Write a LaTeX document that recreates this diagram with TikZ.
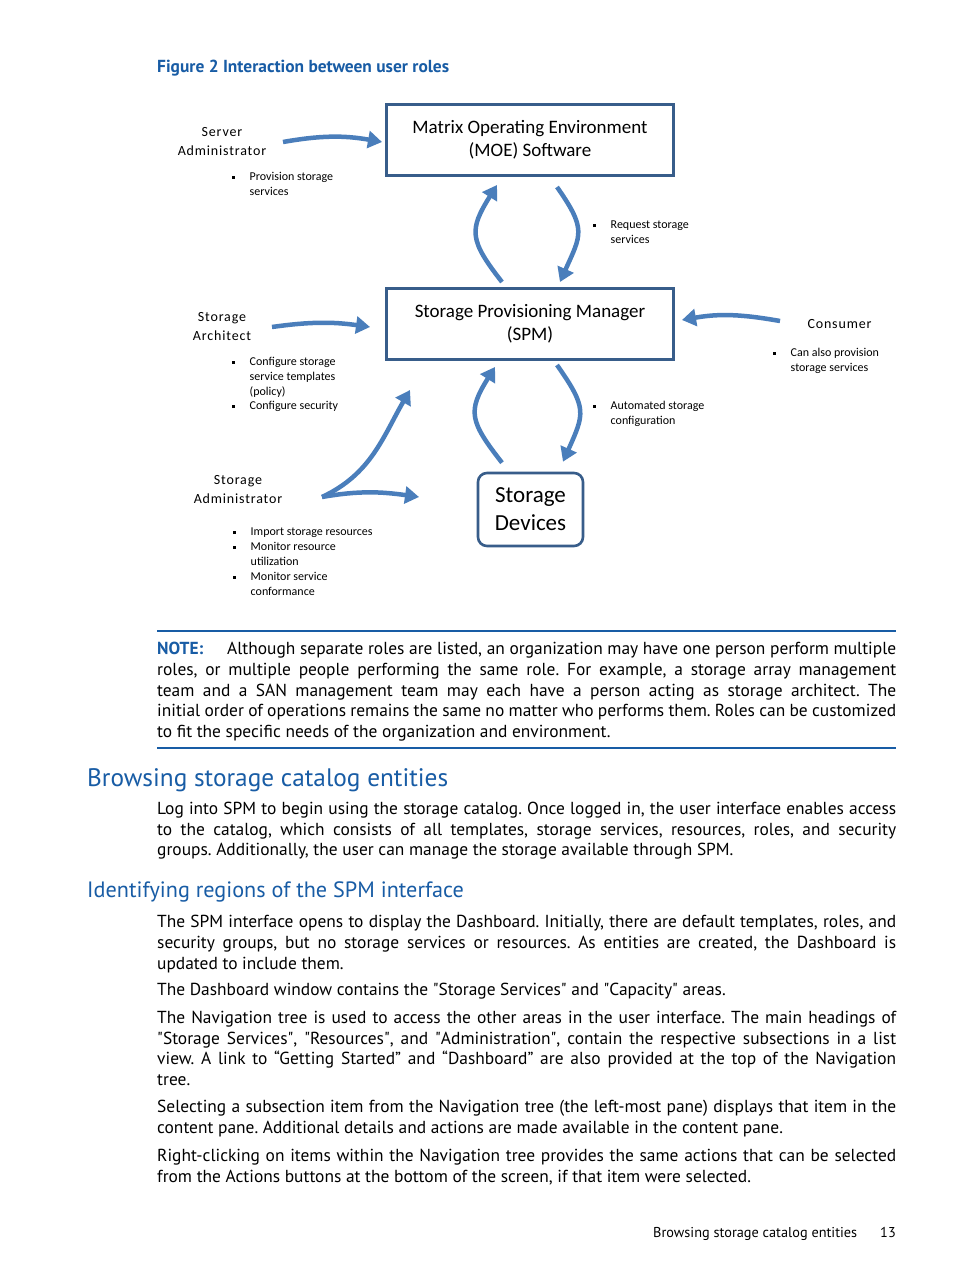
\documentclass[tikz,border=0pt]{standalone}
\usepackage{fontspec}
\setmainfont{PT Sans}
\newfontfamily\qfont{PT Sans}
\newfontfamily\msfont{Carlito}
\newfontfamily\rolefont[LetterSpace=6]{Carlito}
\usetikzlibrary{arrows.meta}
\definecolor{hpblue}{RGB}{24,92,165}
\definecolor{boxline}{RGB}{56,93,138}
\definecolor{flowblue}{RGB}{74,126,187}
\frenchspacing
\newcommand{\jl}[1]{\makebox[739pt][s]{#1}}
\newcommand{\bul}{\makebox[17.5pt][l]{\rule[1.7pt]{2.8pt}{2.8pt}}}
\newcommand{\nob}{\hspace*{17.5pt}}
\newcommand{\sq}{{\qfont\symbol{34}}}

\begin{document}
\begin{tikzpicture}[x=1pt, y=1pt,
    every node/.style={inner sep=0pt},
    role/.style={font=\rolefont\fontsize{14}{19}\selectfont, align=center, anchor=north},
    notes/.style={font=\msfont\fontsize{12}{14.8}\selectfont, align=left, anchor=north west},
    block/.style={draw=boxline, line width=3pt, minimum width=287pt, minimum height=71pt, align=center, font=\msfont\fontsize{19}{23}\selectfont},
    flow/.style={draw=flowblue, line width=4.5pt, -{Triangle[width=17pt,length=14pt]}},
    para/.style={font=\fontsize{17.4}{20.7}\selectfont\frenchspacing, align=left, anchor=north west},
    head/.style={text=hpblue, anchor=base west}
  ]
  \fill[white] (0,0) rectangle (954,-1271);
  \useasboundingbox (0,0) rectangle (954,-1271);

  \node[head, font=\bfseries\fontsize{17.4}{20}\selectfont] (fig) at (157,-73) {Figure 2 Interaction between user roles};

  \node[block] (moe) at (530,-140) {Matrix Operating Environment\\(MOE) Software};
  \node[block] (spm) at (530,-324) {Storage Provisioning Manager\\(SPM)};
  \node[block, minimum width=105pt, minimum height=73pt, rounded corners=9pt, line width=2.6pt, font=\msfont\fontsize{23}{28}\selectfont] (dev) at (530.5,-509.5) {Storage\\Devices};

  \node[role] (srv) at (222,-127) {Server\\Administrator};
  \node[role] (arch) at (222,-312) {Storage\\Architect};
  \node[role] (sadm) at (238,-475) {Storage\\Administrator};
  \node[role, anchor=base] (cons) at (839.5,-328) {Consumer};

  \node[notes] (prov) at (232,-172) {\bul Provision storage\\\nob services};
  \node[notes] (req) at (593,-221) {\bul Request storage\\\nob services};
  \node[notes] (cfg) at (232,-357) {\bul Configure storage\\\nob service templates\\\nob (policy)\\\bul Configure security};
  \node[notes] (can) at (773,-348) {\bul Can also provision\\\nob storage services};
  \node[notes] (auto) at (593,-401) {\bul Automated storage\\\nob configuration};
  \node[notes] (imp) at (233,-528) {\bul Import storage resources\\\bul Monitor resource\\\nob utilization\\\bul Monitor service\\\nob conformance};

  \coordinate (srvtail) at (283,-142);
  \coordinate (archtail) at (272,-327);
  \coordinate (constail) at (780,-321);
  \coordinate (sadmtail) at (322,-497);
  \coordinate (sadmup) at (410,-390);
  \coordinate (sadmright) at (419,-497);

  \draw[flow] (srvtail) to[out=10,in=170] ([xshift=-3pt,yshift=-2pt]moe.west);
  \draw[flow] (archtail) to[out=8,in=172] ([xshift=-15pt,yshift=-3pt]spm.west);
  \draw[flow] (constail) to[out=170,in=10] ([xshift=7pt,yshift=4pt]spm.east);
  \draw[flow] ([xshift=27pt,yshift=-10pt]moe.south) to[out=-55,in=66,looseness=1.4] ([xshift=30pt,yshift=5pt]spm.north);
  \draw[flow] ([xshift=-28pt,yshift=5pt]spm.north) to[out=128,in=238,looseness=1.4] ([xshift=-33pt,yshift=-8pt]moe.south);
  \draw[flow] ([xshift=27pt,yshift=-4pt]spm.south) to[out=-55,in=66,looseness=1.4] ([xshift=32.5pt,yshift=10pt]dev.north);
  \draw[flow] ([xshift=-28.5pt,yshift=9pt]dev.north) to[out=128,in=238,looseness=1.4] ([xshift=-35pt,yshift=-6pt]spm.south);
  \draw[flow] (sadmtail) to[out=25,in=240] (sadmup);
  \draw[flow] (sadmtail) to[out=10,in=172] (sadmright);

  \draw[hpblue, line width=1.2pt] (157,-631) -- (896,-631);
  \draw[hpblue, line width=1.2pt] (157,-748) -- (896,-748);
  \node[para] (note) at (157,-642) {\jl{\makebox[70pt][l]{\textcolor{hpblue}{\bfseries NOTE:}}Although separate roles are listed, an organization may have one person perform multiple}\\
    \jl{roles, or multiple people performing the same role. For example, a storage array management}\\
    \jl{team and a SAN management team may each have a person acting as storage architect. The}\\
    \jl{initial order of operations remains the same no matter who performs them. Roles can be customized}\\
    to fit the specific needs of the organization and environment.};

  \node[head, font=\fontsize{25.3}{30}\selectfont] (h1) at (87,-786) {Browsing storage catalog entities};
  \node[para] (p0) at (157,-802) {\jl{Log into SPM to begin using the storage catalog. Once logged in, the user interface enables access}\\
    \jl{to the catalog, which consists of all templates, storage services, resources, roles, and security}\\
    groups. Additionally, the user can manage the storage available through SPM.};

  \node[head, font=\fontsize{22.2}{27}\selectfont] (h2) at (87,-897) {Identifying regions of the SPM interface};
  \node[para] (p1) at (157,-915) {\jl{The SPM interface opens to display the Dashboard. Initially, there are default templates, roles, and}\\
    \jl{security groups, but no storage services or resources. As entities are created, the Dashboard is}\\
    updated to include them.};
  \node[para] (p2) at (157,-983) {The Dashboard window contains the \sq Storage Services\sq{} and \sq Capacity\sq{} areas.};
  \node[para] (p3) at (157,-1011) {\jl{The Navigation tree is used to access the other areas in the user interface. The main headings of}\\
    \jl{\sq Storage Services\sq, \sq Resources\sq, and \sq Administration\sq, contain the respective subsections in a list}\\
    \jl{view. A link to “Getting Started” and “Dashboard” are also provided at the top of the Navigation}\\
    tree.};
  \node[para] (p4) at (157,-1100) {\jl{Selecting a subsection item from the Navigation tree (the left-most pane) displays that item in the}\\
    content pane. Additional details and actions are made available in the content pane.};
  \node[para] (p5) at (157,-1149) {\jl{Right-clicking on items within the Navigation tree provides the same actions that can be selected}\\
    from the Actions buttons at the bottom of the screen, if that item were selected.};

  \node[anchor=base west, font=\fontsize{14.3}{17}\selectfont] (foot) at (653,-1237) {Browsing storage catalog entities};
  \node[anchor=base east, font=\fontsize{14.3}{17}\selectfont] (page) at (896,-1237) {13};
\end{tikzpicture}
\end{document}
